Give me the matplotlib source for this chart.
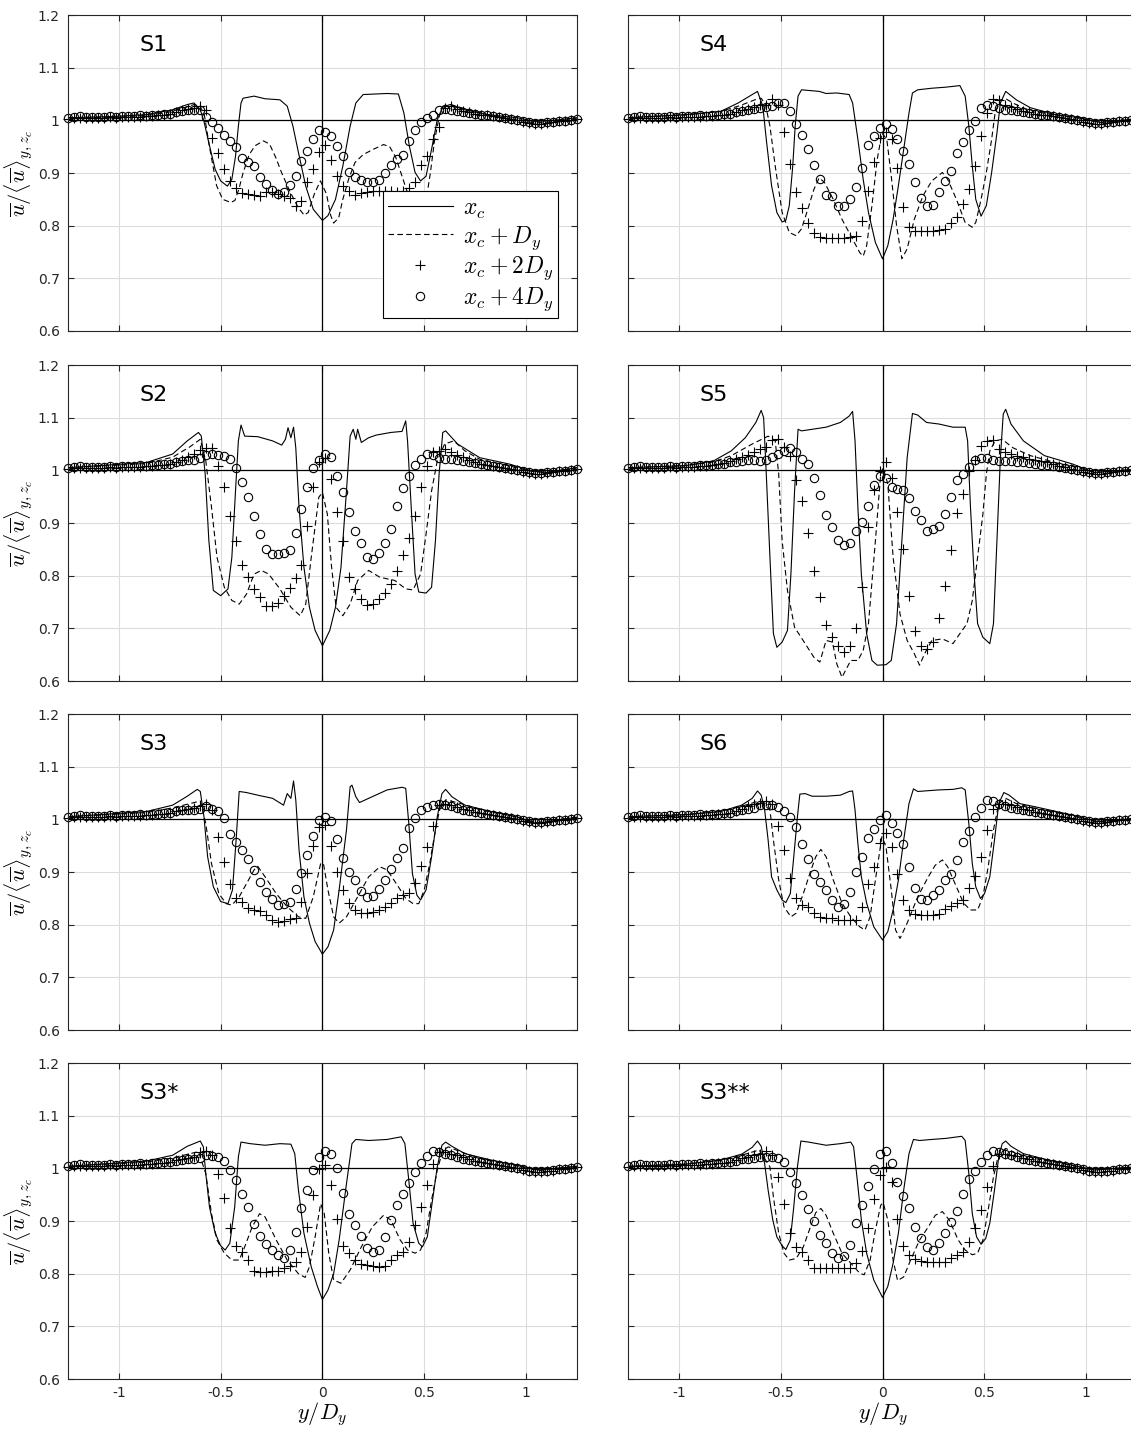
import numpy as np
import matplotlib
matplotlib.use("Agg")
import matplotlib.pyplot as plt

plt.rcParams['font.family'] = ['DejaVu Sans']
plt.rcParams['mathtext.fontset'] = 'cm'

# measurement stations (y/D_y) of the x_c+2D_y and x_c+4D_y profiles
stations = np.linspace(-1.25, 1.25, 86)

# ---------------- S1 ----------------
s1_xc = [(-1.25, 1.005), (-1.045, 1.007), (-0.864, 1.011), (-0.736, 1.02), (-0.664, 1.03), (-0.631, 1.033),
         (-0.6, 1.02), (-0.582, 0.998), (-0.558, 0.957), (-0.527, 0.907), (-0.5, 0.885), (-0.467, 0.875),
         (-0.445, 0.888), (-0.427, 0.932), (-0.413, 0.989), (-0.4, 1.033), (-0.39, 1.042), (-0.336, 1.046),
         (-0.282, 1.041), (-0.209, 1.039), (-0.173, 1.027), (-0.145, 0.989), (-0.118, 0.939), (-0.082, 0.875),
         (-0.045, 0.831), (0.0, 0.81), (0.027, 0.819), (0.064, 0.85), (0.1, 0.913), (0.136, 0.989),
         (0.164, 1.033), (0.2, 1.049), (0.318, 1.051), (0.373, 1.05), (0.4, 1.014), (0.427, 0.951),
         (0.455, 0.901), (0.482, 0.885), (0.509, 0.894), (0.536, 0.945), (0.564, 1.001), (0.59, 1.025),
         (0.627, 1.03), (0.7, 1.02), (0.81, 1.011), (0.955, 1.005), (1.045, 0.998), (1.136, 1.0), (1.25, 1.005)]
s1_xc1 = [(-1.25, 1.005), (-1.0, 1.006), (-0.85, 1.01), (-0.75, 1.016), (-0.68, 1.024), (-0.63, 1.03),
          (-0.6, 1.026), (-0.58, 1.01), (-0.555, 0.95), (-0.52, 0.876), (-0.49, 0.85), (-0.45, 0.844),
          (-0.43, 0.848), (-0.41, 0.87), (-0.39, 0.9), (-0.36, 0.935), (-0.33, 0.952), (-0.29, 0.961),
          (-0.26, 0.955), (-0.23, 0.93), (-0.2, 0.9), (-0.16, 0.865), (-0.12, 0.835), (-0.09, 0.82),
          (-0.07, 0.825), (-0.04, 0.86), (-0.01, 0.885), (0.02, 0.86), (0.04, 0.82), (0.055, 0.805),
          (0.08, 0.815), (0.1, 0.85), (0.13, 0.89), (0.16, 0.92), (0.2, 0.935), (0.25, 0.945),
          (0.3, 0.954), (0.33, 0.95), (0.36, 0.93), (0.39, 0.895), (0.42, 0.86), (0.46, 0.84),
          (0.49, 0.84), (0.51, 0.85), (0.53, 0.9), (0.55, 0.96), (0.575, 1.01), (0.6, 1.025),
          (0.63, 1.03), (0.7, 1.022), (0.8, 1.012), (0.9, 1.004), (1.0, 0.998), (1.05, 0.995),
          (1.15, 0.998), (1.25, 1.003)]
s1_xc2 = [1.003, 1.004, 1.005, 1.004, 1.004, 1.005, 1.005, 1.006, 1.005, 1.006,
          1.006, 1.007, 1.007, 1.008, 1.008, 1.01, 1.011, 1.013, 1.016, 1.019,
          1.022, 1.024, 1.027, 1.02, 0.967, 0.938, 0.908, 0.885, 0.871, 0.862,
          0.86, 0.858, 0.857, 0.864, 0.863, 0.86, 0.857, 0.852, 0.838, 0.847,
          0.882, 0.907, 0.94, 0.953, 0.925, 0.894, 0.875, 0.865, 0.858, 0.862,
          0.864, 0.866, 0.866, 0.866, 0.865, 0.864, 0.866, 0.872, 0.883, 0.916,
          0.932, 0.964, 0.988, 1.024, 1.027, 1.022, 1.018, 1.015, 1.013, 1.011,
          1.01, 1.008, 1.006, 1.004, 1.002, 1.0, 0.997, 0.995, 0.994, 0.994,
          0.995, 0.996, 0.998, 0.999, 1.0, 1.002]
s1_xc4 = [1.005, 1.007, 1.008, 1.007, 1.006, 1.007, 1.007, 1.008, 1.007, 1.008,
          1.009, 1.008, 1.01, 1.009, 1.01, 1.011, 1.012, 1.013, 1.015, 1.017,
          1.019, 1.02, 1.02, 1.006, 0.996, 0.986, 0.973, 0.96, 0.949, 0.929,
          0.92, 0.913, 0.893, 0.879, 0.867, 0.861, 0.863, 0.877, 0.894, 0.923,
          0.942, 0.965, 0.981, 0.978, 0.971, 0.952, 0.933, 0.902, 0.893, 0.887,
          0.882, 0.883, 0.887, 0.9, 0.916, 0.927, 0.935, 0.961, 0.981, 0.997,
          1.005, 1.011, 1.02, 1.022, 1.02, 1.018, 1.016, 1.014, 1.012, 1.011,
          1.01, 1.008, 1.007, 1.005, 1.003, 1.0, 0.998, 0.996, 0.995, 0.995,
          0.996, 0.997, 0.998, 0.999, 1.0, 1.003]

# ---------------- S4 ----------------
s4_xc = [(-1.25, 1.005), (-0.968, 1.011), (-0.795, 1.017), (-0.709, 1.033), (-0.614, 1.055), (-0.588, 1.027),
         (-0.571, 0.964), (-0.545, 0.876), (-0.519, 0.825), (-0.493, 0.807), (-0.475, 0.81), (-0.458, 0.838),
         (-0.441, 0.913), (-0.429, 0.989), (-0.415, 1.046), (-0.398, 1.058), (-0.311, 1.055), (-0.277, 1.051),
         (-0.225, 1.052), (-0.164, 1.049), (-0.147, 1.033), (-0.121, 0.964), (-0.095, 0.888), (-0.069, 0.825),
         (-0.035, 0.768), (0.0, 0.737), (0.026, 0.762), (0.052, 0.812), (0.078, 0.876), (0.104, 0.945),
         (0.13, 1.014), (0.147, 1.052), (0.173, 1.058), (0.242, 1.061), (0.311, 1.063), (0.38, 1.066),
         (0.406, 1.046), (0.424, 0.989), (0.441, 0.913), (0.458, 0.85), (0.484, 0.818), (0.51, 0.838),
         (0.536, 0.901), (0.562, 0.976), (0.579, 1.033), (0.605, 1.055), (0.657, 1.039), (0.726, 1.024),
         (0.847, 1.011), (0.968, 1.005), (1.072, 0.996), (1.25, 1.003)]
s4_xc1 = [(-1.25, 1.005), (-0.968, 1.01), (-0.795, 1.017), (-0.7, 1.028), (-0.62, 1.04), (-0.596, 1.042),
          (-0.575, 1.03), (-0.553, 0.989), (-0.527, 0.913), (-0.493, 0.825), (-0.458, 0.787), (-0.424, 0.781),
          (-0.398, 0.794), (-0.372, 0.825), (-0.337, 0.869), (-0.311, 0.891), (-0.285, 0.882), (-0.242, 0.85),
          (-0.199, 0.812), (-0.156, 0.781), (-0.112, 0.749), (-0.095, 0.742), (-0.078, 0.762), (-0.052, 0.838),
          (-0.026, 0.926), (-0.003, 0.976), (0.021, 0.964), (0.043, 0.894), (0.069, 0.8), (0.095, 0.737),
          (0.121, 0.756), (0.156, 0.812), (0.199, 0.857), (0.242, 0.885), (0.294, 0.901), (0.32, 0.888),
          (0.363, 0.85), (0.406, 0.806), (0.441, 0.797), (0.458, 0.806), (0.484, 0.85), (0.51, 0.901),
          (0.536, 0.964), (0.553, 1.014), (0.579, 1.039), (0.61, 1.04), (0.64, 1.033), (0.7, 1.022),
          (0.8, 1.013), (0.95, 1.005), (1.07, 0.996), (1.25, 1.003)]
s4_xc2 = [1.003, 1.004, 1.005, 1.004, 1.004, 1.005, 1.005, 1.006, 1.005, 1.006,
          1.006, 1.007, 1.007, 1.008, 1.008, 1.01, 1.011, 1.013, 1.016, 1.019,
          1.022, 1.026, 1.03, 1.03, 1.04, 1.03, 0.978, 0.918, 0.864, 0.833,
          0.806, 0.787, 0.778, 0.776, 0.776, 0.776, 0.777, 0.778, 0.781, 0.808,
          0.866, 0.92, 0.967, 0.978, 0.964, 0.91, 0.835, 0.798, 0.789, 0.789,
          0.789, 0.789, 0.792, 0.794, 0.805, 0.816, 0.842, 0.869, 0.913, 0.97,
          1.014, 1.041, 1.039, 1.03, 1.025, 1.021, 1.018, 1.015, 1.013, 1.011,
          1.01, 1.008, 1.006, 1.004, 1.002, 1.0, 0.997, 0.995, 0.994, 0.994,
          0.995, 0.996, 0.998, 0.999, 1.0, 1.002]
s4_xc4 = [1.005, 1.007, 1.008, 1.007, 1.006, 1.007, 1.007, 1.008, 1.007, 1.008,
          1.009, 1.008, 1.01, 1.009, 1.01, 1.011, 1.012, 1.013, 1.015, 1.017,
          1.02, 1.022, 1.024, 1.025, 1.028, 1.032, 1.032, 1.017, 0.994, 0.973,
          0.945, 0.915, 0.888, 0.858, 0.857, 0.838, 0.838, 0.85, 0.874, 0.91,
          0.953, 0.971, 0.986, 0.994, 0.983, 0.965, 0.942, 0.918, 0.882, 0.852,
          0.838, 0.84, 0.864, 0.885, 0.903, 0.938, 0.959, 0.981, 0.998, 1.024,
          1.03, 1.028, 1.024, 1.02, 1.02, 1.018, 1.016, 1.014, 1.012, 1.011,
          1.01, 1.008, 1.007, 1.005, 1.003, 1.0, 0.998, 0.996, 0.995, 0.995,
          0.996, 0.997, 0.998, 0.999, 1.0, 1.003]

# ---------------- S2 ----------------
s2_xc = [(-1.25, 1.005), (-0.864, 1.015), (-0.736, 1.031), (-0.664, 1.056), (-0.609, 1.072), (-0.595, 1.065),
         (-0.576, 0.993), (-0.558, 0.867), (-0.536, 0.772), (-0.5, 0.762), (-0.464, 0.775), (-0.445, 0.835),
         (-0.427, 0.961), (-0.413, 1.056), (-0.4, 1.086), (-0.382, 1.065), (-0.318, 1.064), (-0.245, 1.056),
         (-0.2, 1.048), (-0.182, 1.059), (-0.169, 1.081), (-0.155, 1.062), (-0.142, 1.082), (-0.131, 1.043),
         (-0.115, 0.93), (-0.091, 0.816), (-0.064, 0.74), (-0.036, 0.696), (0.0, 0.667), (0.036, 0.696),
         (0.064, 0.74), (0.091, 0.816), (0.118, 0.961), (0.136, 1.065), (0.151, 1.078), (0.164, 1.059),
         (0.173, 1.078), (0.191, 1.053), (0.227, 1.062), (0.264, 1.067), (0.336, 1.072), (0.391, 1.074),
         (0.409, 1.094), (0.418, 1.056), (0.436, 0.93), (0.455, 0.803), (0.473, 0.769), (0.509, 0.767),
         (0.536, 0.778), (0.555, 0.866), (0.573, 0.993), (0.591, 1.072), (0.605, 1.075), (0.664, 1.05),
         (0.773, 1.024), (0.918, 1.012), (1.027, 0.999), (1.1, 0.996), (1.25, 1.005)]
s2_xc1 = [(-1.25, 1.005), (-0.864, 1.013), (-0.736, 1.025), (-0.65, 1.045), (-0.6, 1.059), (-0.573, 1.018),
          (-0.545, 0.93), (-0.518, 0.835), (-0.482, 0.778), (-0.445, 0.753), (-0.409, 0.746), (-0.373, 0.765),
          (-0.336, 0.803), (-0.3, 0.81), (-0.264, 0.803), (-0.209, 0.775), (-0.155, 0.74), (-0.109, 0.724),
          (-0.082, 0.746), (-0.055, 0.835), (-0.018, 0.949), (0.0, 0.958), (0.024, 0.917), (0.045, 0.816),
          (0.067, 0.74), (0.1, 0.724), (0.136, 0.746), (0.173, 0.791), (0.227, 0.81), (0.282, 0.797),
          (0.355, 0.791), (0.409, 0.775), (0.445, 0.773), (0.482, 0.803), (0.509, 0.879), (0.536, 0.961),
          (0.564, 1.018), (0.6, 1.05), (0.645, 1.056), (0.7, 1.037), (0.773, 1.021), (0.9, 1.01),
          (1.03, 0.998), (1.1, 0.996), (1.25, 1.005)]
s2_xc2 = [1.003, 1.004, 1.005, 1.004, 1.004, 1.005, 1.005, 1.006, 1.005, 1.006,
          1.006, 1.007, 1.007, 1.008, 1.008, 1.01, 1.011, 1.013, 1.016, 1.02,
          1.025, 1.032, 1.038, 1.042, 1.042, 1.009, 0.969, 0.913, 0.865, 0.821,
          0.798, 0.775, 0.759, 0.743, 0.742, 0.748, 0.762, 0.777, 0.795, 0.821,
          0.894, 0.968, 1.015, 1.024, 0.983, 0.92, 0.865, 0.798, 0.774, 0.756,
          0.745, 0.746, 0.756, 0.767, 0.784, 0.808, 0.84, 0.871, 0.914, 0.968,
          1.009, 1.034, 1.037, 1.04, 1.035, 1.03, 1.025, 1.02, 1.016, 1.013,
          1.01, 1.008, 1.006, 1.004, 1.002, 1.0, 0.997, 0.995, 0.994, 0.994,
          0.995, 0.996, 0.998, 0.999, 1.0, 1.002]
s2_xc4 = [1.005, 1.007, 1.008, 1.007, 1.006, 1.007, 1.007, 1.008, 1.007, 1.008,
          1.009, 1.008, 1.01, 1.009, 1.01, 1.011, 1.012, 1.013, 1.015, 1.017,
          1.02, 1.02, 1.024, 1.029, 1.031, 1.029, 1.028, 1.021, 1.004, 0.977,
          0.95, 0.914, 0.88, 0.85, 0.841, 0.841, 0.843, 0.849, 0.882, 0.926,
          0.969, 1.005, 1.02, 1.031, 1.026, 0.99, 0.958, 0.921, 0.885, 0.863,
          0.835, 0.832, 0.844, 0.863, 0.889, 0.933, 0.966, 0.99, 1.01, 1.021,
          1.032, 1.029, 1.024, 1.022, 1.021, 1.02, 1.018, 1.016, 1.014, 1.012,
          1.01, 1.008, 1.007, 1.005, 1.003, 1.0, 0.998, 0.996, 0.995, 0.995,
          0.996, 0.997, 0.998, 0.999, 1.0, 1.003]

# ---------------- S5 ----------------
s5_xc = [(-1.25, 1.005), (-0.968, 1.009), (-0.83, 1.018), (-0.743, 1.037), (-0.674, 1.062), (-0.622, 1.091),
         (-0.596, 1.114), (-0.584, 1.1), (-0.571, 0.993), (-0.553, 0.835), (-0.536, 0.69), (-0.519, 0.664),
         (-0.493, 0.674), (-0.467, 0.696), (-0.45, 0.803), (-0.432, 0.961), (-0.415, 1.078), (-0.398, 1.075),
         (-0.346, 1.078), (-0.277, 1.082), (-0.207, 1.091), (-0.164, 1.103), (-0.147, 1.112), (-0.135, 1.056),
         (-0.121, 0.93), (-0.104, 0.803), (-0.078, 0.69), (-0.052, 0.639), (-0.026, 0.63), (0.017, 0.631),
         (0.043, 0.639), (0.069, 0.709), (0.095, 0.866), (0.121, 1.024), (0.147, 1.108), (0.173, 1.105),
         (0.216, 1.091), (0.277, 1.088), (0.346, 1.082), (0.406, 1.082), (0.418, 1.056), (0.432, 0.93),
         (0.45, 0.803), (0.467, 0.709), (0.493, 0.683), (0.527, 0.671), (0.545, 0.709), (0.562, 0.866),
         (0.579, 1.024), (0.593, 1.107), (0.605, 1.116), (0.631, 1.088), (0.692, 1.056), (0.795, 1.028),
         (0.934, 1.012), (1.037, 0.996), (1.25, 1.002)]
s5_xc1 = [(-1.25, 1.005), (-0.968, 1.009), (-0.83, 1.016), (-0.743, 1.028), (-0.64, 1.05), (-0.562, 1.065),
          (-0.527, 1.056), (-0.51, 0.993), (-0.493, 0.866), (-0.467, 0.772), (-0.432, 0.702), (-0.38, 0.671),
          (-0.337, 0.645), (-0.308, 0.636), (-0.277, 0.677), (-0.246, 0.674), (-0.225, 0.633), (-0.199, 0.607),
          (-0.182, 0.62), (-0.156, 0.639), (-0.121, 0.639), (-0.095, 0.658), (-0.069, 0.709), (-0.035, 0.866),
          (-0.009, 0.993), (0.003, 1.005), (0.026, 0.974), (0.052, 0.835), (0.086, 0.727), (0.121, 0.677),
          (0.156, 0.652), (0.182, 0.63), (0.207, 0.652), (0.242, 0.677), (0.294, 0.68), (0.346, 0.671),
          (0.38, 0.69), (0.415, 0.709), (0.441, 0.753), (0.467, 0.835), (0.493, 0.917), (0.51, 0.993),
          (0.527, 1.037), (0.553, 1.056), (0.588, 1.059), (0.64, 1.043), (0.726, 1.028), (0.847, 1.015),
          (0.95, 1.006), (1.05, 0.996), (1.25, 1.002)]
s5_xc2 = [1.003, 1.004, 1.005, 1.004, 1.004, 1.005, 1.005, 1.006, 1.005, 1.006,
          1.006, 1.007, 1.008, 1.009, 1.01, 1.012, 1.014, 1.017, 1.021, 1.025,
          1.03, 1.035, 1.04, 1.045, 1.058, 1.06, 1.045, 1.028, 0.981, 0.941,
          0.881, 0.808, 0.76, 0.707, 0.683, 0.667, 0.655, 0.667, 0.7, 0.779,
          0.892, 0.963, 0.999, 1.015, 0.985, 0.921, 0.85, 0.761, 0.695, 0.667,
          0.661, 0.674, 0.719, 0.781, 0.849, 0.919, 0.956, 0.999, 1.02, 1.046,
          1.056, 1.058, 1.041, 1.035, 1.031, 1.028, 1.025, 1.022, 1.02, 1.018,
          1.015, 1.012, 1.009, 1.006, 1.003, 1.0, 0.997, 0.995, 0.994, 0.994,
          0.995, 0.996, 0.998, 0.999, 1.0, 1.002]
s5_xc4 = [1.005, 1.007, 1.008, 1.007, 1.006, 1.007, 1.007, 1.008, 1.007, 1.008,
          1.009, 1.008, 1.01, 1.01, 1.011, 1.012, 1.013, 1.015, 1.016, 1.018,
          1.02, 1.019, 1.018, 1.02, 1.025, 1.031, 1.037, 1.042, 1.034, 1.021,
          1.012, 0.986, 0.954, 0.916, 0.893, 0.868, 0.858, 0.862, 0.885, 0.902,
          0.932, 0.973, 0.99, 0.985, 0.968, 0.964, 0.962, 0.947, 0.923, 0.906,
          0.885, 0.889, 0.895, 0.918, 0.95, 0.981, 0.994, 1.007, 1.019, 1.023,
          1.024, 1.02, 1.018, 1.017, 1.017, 1.016, 1.015, 1.014, 1.012, 1.011,
          1.01, 1.008, 1.007, 1.005, 1.003, 1.0, 0.998, 0.996, 0.995, 0.995,
          0.996, 0.997, 0.998, 0.999, 1.0, 1.003]

# ---------------- S3 ----------------
s3_xc = [(-1.25, 1.005), (-0.864, 1.015), (-0.736, 1.027), (-0.664, 1.044), (-0.615, 1.057), (-0.6, 1.053),
         (-0.582, 1.005), (-0.564, 0.929), (-0.536, 0.872), (-0.5, 0.844), (-0.464, 0.84), (-0.442, 0.866),
         (-0.424, 0.961), (-0.409, 1.053), (-0.373, 1.051), (-0.318, 1.046), (-0.245, 1.04), (-0.191, 1.027),
         (-0.173, 1.049), (-0.155, 1.04), (-0.142, 1.073), (-0.131, 1.037), (-0.115, 0.942), (-0.091, 0.853),
         (-0.064, 0.803), (-0.036, 0.768), (0.0, 0.744), (0.027, 0.758), (0.055, 0.79), (0.082, 0.866),
         (0.118, 0.98), (0.136, 1.062), (0.145, 1.065), (0.164, 1.043), (0.182, 1.032), (0.227, 1.04),
         (0.318, 1.056), (0.391, 1.061), (0.409, 1.059), (0.424, 0.993), (0.442, 0.897), (0.464, 0.856),
         (0.482, 0.847), (0.509, 0.866), (0.536, 0.929), (0.564, 1.005), (0.587, 1.049), (0.605, 1.057),
         (0.636, 1.043), (0.7, 1.027), (0.827, 1.015), (0.955, 1.005), (1.045, 0.992), (1.25, 1.004)]
s3_xc1 = [(-1.25, 1.005), (-0.864, 1.013), (-0.736, 1.022), (-0.65, 1.03), (-0.6, 1.035), (-0.573, 0.992),
          (-0.545, 0.916), (-0.509, 0.859), (-0.473, 0.84), (-0.445, 0.837), (-0.409, 0.853), (-0.373, 0.878),
          (-0.336, 0.904), (-0.318, 0.911), (-0.282, 0.891), (-0.227, 0.859), (-0.173, 0.834), (-0.118, 0.815),
          (-0.082, 0.812), (-0.045, 0.853), (-0.009, 0.916), (0.005, 0.916), (0.027, 0.866), (0.055, 0.815),
          (0.082, 0.803), (0.118, 0.815), (0.173, 0.853), (0.227, 0.891), (0.282, 0.91), (0.318, 0.904),
          (0.373, 0.872), (0.409, 0.85), (0.445, 0.84), (0.473, 0.84), (0.5, 0.866), (0.527, 0.916),
          (0.555, 0.98), (0.582, 1.03), (0.609, 1.037), (0.68, 1.03), (0.8, 1.016), (0.95, 1.005),
          (1.05, 0.994), (1.25, 1.004)]
s3_xc2 = [1.003, 1.004, 1.005, 1.004, 1.004, 1.005, 1.005, 1.006, 1.005, 1.006,
          1.006, 1.007, 1.007, 1.008, 1.008, 1.01, 1.011, 1.013, 1.016, 1.018,
          1.02, 1.022, 1.025, 1.03, 1.018, 0.967, 0.92, 0.878, 0.85, 0.844,
          0.831, 0.828, 0.826, 0.818, 0.809, 0.806, 0.807, 0.81, 0.812, 0.844,
          0.899, 0.949, 0.986, 0.99, 0.949, 0.901, 0.866, 0.842, 0.828, 0.822,
          0.822, 0.825, 0.828, 0.834, 0.842, 0.85, 0.856, 0.861, 0.88, 0.911,
          0.947, 0.987, 1.027, 1.03, 1.027, 1.024, 1.02, 1.017, 1.014, 1.012,
          1.01, 1.008, 1.006, 1.004, 1.002, 1.0, 0.997, 0.995, 0.994, 0.994,
          0.995, 0.996, 0.998, 0.999, 1.0, 1.002]
s3_xc4 = [1.005, 1.007, 1.008, 1.007, 1.006, 1.007, 1.007, 1.008, 1.007, 1.008,
          1.009, 1.008, 1.01, 1.009, 1.01, 1.011, 1.012, 1.013, 1.015, 1.017,
          1.018, 1.018, 1.02, 1.025, 1.019, 1.015, 1.002, 0.973, 0.958, 0.942,
          0.924, 0.904, 0.882, 0.863, 0.848, 0.837, 0.839, 0.843, 0.867, 0.899,
          0.932, 0.968, 0.999, 1.005, 0.997, 0.962, 0.926, 0.901, 0.885, 0.864,
          0.853, 0.854, 0.868, 0.885, 0.906, 0.926, 0.945, 0.983, 1.002, 1.018,
          1.024, 1.027, 1.03, 1.027, 1.025, 1.022, 1.018, 1.016, 1.014, 1.012,
          1.01, 1.008, 1.007, 1.005, 1.003, 1.0, 0.998, 0.996, 0.995, 0.995,
          0.996, 0.997, 0.998, 0.999, 1.0, 1.003]

# ---------------- S6 ----------------
s6_xc = [(-1.25, 1.005), (-0.968, 1.009), (-0.795, 1.015), (-0.692, 1.027), (-0.64, 1.04), (-0.614, 1.054),
         (-0.596, 1.046), (-0.579, 1.018), (-0.562, 0.961), (-0.545, 0.891), (-0.519, 0.866), (-0.493, 0.847),
         (-0.475, 0.842), (-0.453, 0.859), (-0.436, 0.929), (-0.418, 1.005), (-0.406, 1.048), (-0.38, 1.049),
         (-0.346, 1.044), (-0.277, 1.044), (-0.207, 1.046), (-0.164, 1.053), (-0.147, 1.054), (-0.135, 1.018),
         (-0.121, 0.954), (-0.104, 0.891), (-0.078, 0.841), (-0.043, 0.796), (0.0, 0.771), (0.026, 0.787),
         (0.052, 0.828), (0.078, 0.885), (0.104, 0.961), (0.13, 1.03), (0.152, 1.058), (0.173, 1.053),
         (0.207, 1.054), (0.277, 1.056), (0.346, 1.057), (0.389, 1.06), (0.406, 1.056), (0.424, 0.992),
         (0.441, 0.916), (0.458, 0.872), (0.481, 0.85), (0.501, 0.859), (0.527, 0.891), (0.55, 0.961),
         (0.571, 1.03), (0.596, 1.051), (0.622, 1.046), (0.674, 1.03), (0.761, 1.023), (0.934, 1.008),
         (1.055, 0.996), (1.25, 1.002)]
s6_xc1 = [(-1.25, 1.005), (-0.968, 1.009), (-0.795, 1.015), (-0.692, 1.025), (-0.606, 1.035), (-0.553, 1.018),
          (-0.536, 0.961), (-0.51, 0.885), (-0.484, 0.834), (-0.45, 0.815), (-0.424, 0.822), (-0.389, 0.859),
          (-0.354, 0.901), (-0.328, 0.929), (-0.303, 0.943), (-0.277, 0.929), (-0.242, 0.885), (-0.199, 0.841),
          (-0.156, 0.815), (-0.112, 0.796), (-0.086, 0.79), (-0.061, 0.815), (-0.035, 0.885), (-0.003, 0.967),
          (0.017, 0.948), (0.043, 0.866), (0.064, 0.79), (0.086, 0.774), (0.121, 0.803), (0.173, 0.853),
          (0.225, 0.891), (0.259, 0.913), (0.294, 0.923), (0.32, 0.91), (0.363, 0.872), (0.398, 0.841),
          (0.432, 0.828), (0.467, 0.828), (0.493, 0.853), (0.519, 0.91), (0.545, 0.98), (0.571, 1.03),
          (0.605, 1.04), (0.657, 1.03), (0.76, 1.02), (0.93, 1.007), (1.05, 0.995), (1.25, 1.002)]
s6_xc2 = [1.003, 1.004, 1.005, 1.004, 1.004, 1.005, 1.005, 1.006, 1.005, 1.006,
          1.006, 1.007, 1.007, 1.008, 1.008, 1.01, 1.011, 1.013, 1.016, 1.02,
          1.025, 1.03, 1.032, 1.035, 1.03, 0.987, 0.942, 0.888, 0.85, 0.837,
          0.833, 0.822, 0.815, 0.813, 0.813, 0.809, 0.809, 0.809, 0.809, 0.834,
          0.877, 0.909, 0.956, 0.975, 0.948, 0.896, 0.846, 0.827, 0.82, 0.818,
          0.818, 0.818, 0.82, 0.829, 0.835, 0.841, 0.846, 0.869, 0.892, 0.929,
          0.98, 1.02, 1.03, 1.03, 1.027, 1.024, 1.02, 1.017, 1.014, 1.012,
          1.01, 1.008, 1.006, 1.004, 1.002, 1.0, 0.997, 0.995, 0.994, 0.994,
          0.995, 0.996, 0.998, 0.999, 1.0, 1.002]
s6_xc4 = [1.005, 1.007, 1.008, 1.007, 1.006, 1.007, 1.007, 1.008, 1.007, 1.008,
          1.009, 1.008, 1.01, 1.009, 1.01, 1.011, 1.012, 1.013, 1.015, 1.017,
          1.02, 1.022, 1.027, 1.027, 1.027, 1.024, 1.015, 1.004, 0.986, 0.954,
          0.924, 0.896, 0.882, 0.866, 0.846, 0.834, 0.84, 0.863, 0.901, 0.928,
          0.964, 0.981, 0.999, 1.008, 0.994, 0.975, 0.954, 0.91, 0.869, 0.848,
          0.847, 0.856, 0.866, 0.884, 0.896, 0.923, 0.958, 0.978, 1.005, 1.021,
          1.037, 1.034, 1.029, 1.025, 1.022, 1.02, 1.018, 1.016, 1.014, 1.012,
          1.01, 1.008, 1.007, 1.005, 1.003, 1.0, 0.998, 0.996, 0.995, 0.995,
          0.996, 0.997, 0.998, 0.999, 1.0, 1.003]

# ---------------- S3* ----------------
s3a_xc = [(-1.25, 1.004), (-0.864, 1.014), (-0.736, 1.025), (-0.664, 1.042), (-0.6, 1.052), (-0.585, 1.041),
          (-0.573, 0.99), (-0.555, 0.927), (-0.527, 0.877), (-0.5, 0.853), (-0.478, 0.845), (-0.455, 0.858),
          (-0.431, 0.927), (-0.413, 1.022), (-0.4, 1.05), (-0.355, 1.047), (-0.282, 1.044), (-0.209, 1.047),
          (-0.155, 1.046), (-0.136, 1.028), (-0.118, 0.959), (-0.091, 0.877), (-0.055, 0.813), (-0.024, 0.775),
          (0.0, 0.751), (0.027, 0.769), (0.055, 0.8), (0.082, 0.864), (0.118, 0.971), (0.145, 1.047),
          (0.164, 1.055), (0.227, 1.053), (0.318, 1.055), (0.387, 1.06), (0.405, 1.047), (0.424, 0.978),
          (0.445, 0.896), (0.473, 0.858), (0.491, 0.851), (0.515, 0.87), (0.536, 0.927), (0.564, 1.003),
          (0.587, 1.044), (0.605, 1.05), (0.636, 1.042), (0.7, 1.028), (0.827, 1.016), (0.955, 1.006),
          (1.064, 0.997), (1.25, 1.004)]
s3a_xc1 = [(-1.25, 1.004), (-0.864, 1.012), (-0.736, 1.02), (-0.65, 1.028), (-0.609, 1.032), (-0.573, 0.99),
           (-0.545, 0.914), (-0.518, 0.864), (-0.482, 0.839), (-0.445, 0.826), (-0.409, 0.826), (-0.382, 0.851),
           (-0.345, 0.889), (-0.309, 0.914), (-0.282, 0.908), (-0.227, 0.864), (-0.173, 0.826), (-0.118, 0.8),
           (-0.085, 0.793), (-0.064, 0.813), (-0.036, 0.87), (-0.009, 0.933), (0.009, 0.914), (0.031, 0.839),
           (0.055, 0.788), (0.091, 0.782), (0.136, 0.807), (0.191, 0.851), (0.245, 0.889), (0.3, 0.911),
           (0.336, 0.902), (0.382, 0.864), (0.418, 0.845), (0.455, 0.839), (0.482, 0.845), (0.509, 0.877),
           (0.536, 0.94), (0.564, 0.997), (0.591, 1.034), (0.618, 1.041), (0.682, 1.031), (0.8, 1.016),
           (0.95, 1.005), (1.06, 0.996), (1.25, 1.004)]
s3a_xc2 = [1.003, 1.004, 1.005, 1.004, 1.004, 1.005, 1.005, 1.006, 1.005, 1.006,
           1.006, 1.007, 1.007, 1.008, 1.008, 1.01, 1.011, 1.013, 1.016, 1.018,
           1.02, 1.022, 1.031, 1.034, 1.025, 0.989, 0.943, 0.886, 0.853, 0.841,
           0.826, 0.806, 0.804, 0.804, 0.805, 0.805, 0.81, 0.815, 0.823, 0.841,
           0.888, 0.949, 0.998, 1.007, 0.968, 0.903, 0.853, 0.839, 0.827, 0.818,
           0.817, 0.815, 0.812, 0.815, 0.827, 0.835, 0.842, 0.861, 0.892, 0.927,
           0.968, 1.009, 1.031, 1.031, 1.028, 1.025, 1.021, 1.017, 1.014, 1.012,
           1.01, 1.008, 1.006, 1.004, 1.002, 1.0, 0.997, 0.995, 0.994, 0.994,
           0.995, 0.996, 0.998, 0.999, 1.0, 1.002]
s3a_xc4 = [1.005, 1.007, 1.008, 1.007, 1.006, 1.007, 1.007, 1.008, 1.007, 1.008,
           1.009, 1.008, 1.01, 1.009, 1.01, 1.011, 1.012, 1.013, 1.015, 1.016,
           1.017, 1.018, 1.02, 1.025, 1.023, 1.021, 1.014, 0.997, 0.978, 0.951,
           0.926, 0.895, 0.871, 0.856, 0.846, 0.835, 0.83, 0.845, 0.88, 0.925,
           0.959, 0.997, 1.022, 1.034, 1.027, 1.0, 0.954, 0.913, 0.892, 0.871,
           0.848, 0.842, 0.846, 0.869, 0.902, 0.93, 0.952, 0.973, 0.993, 1.011,
           1.023, 1.033, 1.031, 1.028, 1.026, 1.022, 1.018, 1.016, 1.014, 1.012,
           1.01, 1.008, 1.007, 1.005, 1.003, 1.0, 0.998, 0.996, 0.995, 0.995,
           0.996, 0.997, 0.998, 0.999, 1.0, 1.003]

# ---------------- S3** ----------------
s3b_xc = [(-1.25, 1.004), (-0.968, 1.008), (-0.795, 1.016), (-0.692, 1.027), (-0.64, 1.04), (-0.614, 1.052),
          (-0.596, 1.042), (-0.579, 1.009), (-0.562, 0.959), (-0.539, 0.902), (-0.519, 0.87), (-0.493, 0.853),
          (-0.475, 0.846), (-0.453, 0.864), (-0.436, 0.927), (-0.418, 1.003), (-0.401, 1.052), (-0.363, 1.05),
          (-0.277, 1.044), (-0.207, 1.047), (-0.156, 1.05), (-0.142, 1.041), (-0.124, 0.978), (-0.104, 0.902),
          (-0.078, 0.839), (-0.043, 0.788), (0.0, 0.755), (0.026, 0.776), (0.052, 0.82), (0.078, 0.877),
          (0.104, 0.959), (0.13, 1.028), (0.152, 1.055), (0.182, 1.053), (0.242, 1.055), (0.311, 1.057),
          (0.389, 1.061), (0.406, 1.053), (0.424, 0.99), (0.441, 0.914), (0.462, 0.87), (0.484, 0.856),
          (0.507, 0.867), (0.527, 0.896), (0.55, 0.959), (0.571, 1.022), (0.588, 1.047), (0.605, 1.052),
          (0.631, 1.042), (0.692, 1.028), (0.813, 1.016), (0.934, 1.006), (1.037, 0.997), (1.25, 1.003)]
s3b_xc1 = [(-1.25, 1.004), (-0.968, 1.008), (-0.795, 1.015), (-0.692, 1.025), (-0.606, 1.035), (-0.553, 1.003),
           (-0.536, 0.946), (-0.51, 0.877), (-0.484, 0.839), (-0.458, 0.826), (-0.424, 0.829), (-0.389, 0.851),
           (-0.354, 0.889), (-0.328, 0.916), (-0.303, 0.924), (-0.277, 0.911), (-0.242, 0.877), (-0.199, 0.839),
           (-0.156, 0.82), (-0.112, 0.801), (-0.09, 0.798), (-0.061, 0.826), (-0.035, 0.883), (-0.009, 0.93),
           (0.003, 0.935), (0.026, 0.902), (0.052, 0.826), (0.074, 0.787), (0.104, 0.794), (0.138, 0.826),
           (0.182, 0.864), (0.225, 0.889), (0.259, 0.911), (0.294, 0.918), (0.328, 0.902), (0.372, 0.864),
           (0.406, 0.845), (0.441, 0.836), (0.467, 0.839), (0.493, 0.864), (0.519, 0.921), (0.545, 0.984),
           (0.571, 1.028), (0.605, 1.038), (0.657, 1.028), (0.76, 1.018), (0.93, 1.006), (1.04, 0.997),
           (1.25, 1.003)]
s3b_xc2 = [1.003, 1.004, 1.005, 1.004, 1.004, 1.005, 1.005, 1.006, 1.005, 1.006,
           1.006, 1.007, 1.007, 1.008, 1.008, 1.01, 1.011, 1.013, 1.016, 1.019,
           1.022, 1.025, 1.028, 1.034, 1.025, 0.983, 0.932, 0.878, 0.851, 0.841,
           0.827, 0.811, 0.811, 0.811, 0.81, 0.81, 0.81, 0.81, 0.821, 0.844,
           0.887, 0.942, 0.988, 1.003, 0.974, 0.903, 0.853, 0.835, 0.828, 0.825,
           0.823, 0.823, 0.823, 0.823, 0.829, 0.835, 0.842, 0.86, 0.887, 0.921,
           0.965, 1.004, 1.028, 1.028, 1.026, 1.023, 1.02, 1.017, 1.014, 1.012,
           1.01, 1.008, 1.006, 1.004, 1.002, 1.0, 0.997, 0.995, 0.994, 0.994,
           0.995, 0.996, 0.998, 0.999, 1.0, 1.002]
s3b_xc4 = [1.005, 1.007, 1.008, 1.007, 1.006, 1.007, 1.007, 1.008, 1.007, 1.008,
           1.009, 1.008, 1.01, 1.009, 1.01, 1.011, 1.012, 1.013, 1.015, 1.017,
           1.018, 1.02, 1.021, 1.022, 1.022, 1.019, 1.012, 0.993, 0.973, 0.949,
           0.922, 0.9, 0.873, 0.858, 0.839, 0.829, 0.834, 0.854, 0.896, 0.93,
           0.967, 0.998, 1.028, 1.033, 1.01, 0.974, 0.947, 0.925, 0.889, 0.867,
           0.85, 0.846, 0.858, 0.878, 0.899, 0.92, 0.952, 0.979, 0.995, 1.012,
           1.025, 1.033, 1.031, 1.028, 1.025, 1.022, 1.018, 1.016, 1.014, 1.012,
           1.01, 1.008, 1.007, 1.005, 1.003, 1.0, 0.998, 0.996, 0.995, 0.995,
           0.996, 0.997, 0.998, 0.999, 1.0, 1.003]

names = ['S1', 'S2', 'S3', 'S3*', 'S4', 'S5', 'S6', 'S3**']
cases = [(s1_xc, s1_xc1, s1_xc2, s1_xc4), (s2_xc, s2_xc1, s2_xc2, s2_xc4),
         (s3_xc, s3_xc1, s3_xc2, s3_xc4), (s3a_xc, s3a_xc1, s3a_xc2, s3a_xc4),
         (s4_xc, s4_xc1, s4_xc2, s4_xc4), (s5_xc, s5_xc1, s5_xc2, s5_xc4),
         (s6_xc, s6_xc1, s6_xc2, s6_xc4), (s3b_xc, s3b_xc1, s3b_xc2, s3b_xc4)]

fig = plt.figure(figsize=(11.31, 14.31), dpi=100)
lefts = [0.0601, 0.5553]
bottoms = [0.7687, 0.5241, 0.2802, 0.0363]
w, h = 0.450, 0.2208

ylab = r'$\overline{u}/\langle\overline{u}\rangle_{y,z_c}$'
for k, (name, (xc, xc1, xc2, xc4)) in enumerate(zip(names, cases)):
    col, row = k // 4, k % 4
    ax = fig.add_axes([lefts[col], bottoms[row], w, h])
    ax.axvline(0, color='k', lw=0.9, zorder=1)
    ax.axhline(1, color='k', lw=0.9, zorder=1)
    x, y = zip(*xc)
    ax.plot(x, y, 'k-', lw=0.8, label=r'$x_c$')
    x, y = zip(*xc1)
    ax.plot(x, y, 'k--', lw=0.8, dashes=(5, 3), label=r'$x_c+D_y$')
    n = min(len(stations), len(xc2))
    ax.plot(stations[:n], xc2[:n], '+', color='k', ms=7, mew=0.8, clip_on=False, label=r'$x_c+2D_y$')
    n = min(len(stations), len(xc4))
    ax.plot(stations[:n], xc4[:n], 'o', mfc='none', mec='k', ms=6, mew=0.8, clip_on=False,
            label=r'$x_c+4D_y$')

    ax.set_xlim(-1.25, 1.25)
    ax.set_ylim(0.6, 1.2)
    ax.set_xticks([-1, -0.5, 0, 0.5, 1])
    ax.set_yticks([0.6, 0.7, 0.8, 0.9, 1.0, 1.1, 1.2])
    ax.grid(True, color='#dcdcdc', lw=0.8)
    ax.set_axisbelow(True)
    ax.tick_params(direction='in', top=True, right=True, length=4, width=0.8,
                   labelsize=10, colors='#262626', pad=6)
    ax.tick_params(axis='x', pad=5)
    for sp in ax.spines.values():
        sp.set_color('#262626')
        sp.set_linewidth(0.8)
    if col == 0:
        ax.set_yticklabels(['0.6', '0.7', '0.8', '0.9', '1', '1.1', '1.2'])
        ax.set_ylabel(ylab, fontsize=16, labelpad=2)
    else:
        ax.set_yticklabels([])
    if row == 3:
        ax.set_xticklabels(['-1', '-0.5', '0', '0.5', '1'])
        ax.set_xlabel(r'$y/D_y$', fontsize=16, labelpad=0)
    else:
        ax.set_xticklabels([])
    ax.text(0.14, 0.905, name, transform=ax.transAxes, fontsize=16, va='center', ha='left')

    if name == 'S1':
        leg = ax.legend(loc='lower right', bbox_to_anchor=(0.963, 0.041), fontsize=17,
                        handlelength=2.75, handletextpad=0.45, borderpad=0.2, labelspacing=0.12,
                        borderaxespad=0, numpoints=1, fancybox=False, edgecolor='k', framealpha=1)
        leg.get_frame().set_linewidth(0.8)

fig.savefig('out.png', dpi=100)
